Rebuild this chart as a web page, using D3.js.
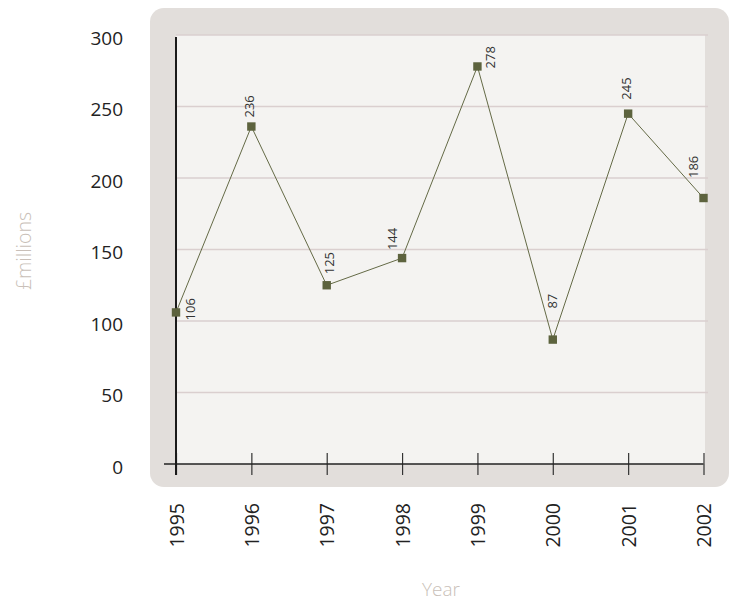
<!DOCTYPE html>
<html>
<head>
<meta charset="utf-8">
<script src="https://cdn.jsdelivr.net/npm/d3@7/dist/d3.min.js"></script>
<style>
  html, body { margin: 0; padding: 0; background: #ffffff; }
  svg { display: block; font-family: "Open Sans", "Noto Sans", sans-serif; }
</style>
</head>
<body>
<svg id="chart" width="729" height="601"></svg>
<script>
// Annual spend, £ millions
const years = ["1995", "1996", "1997", "1998", "1999", "2000", "2001", "2002"];
const spend = [106, 236, 125, 144, 278, 87, 245, 186];
const yTicks = [0, 50, 100, 150, 200, 250, 300];

const svg = d3.select("#chart");

const x = d3.scalePoint().domain(years).range([176, 703.5]);
const y = d3.scaleLinear().domain([0, 300]).range([464, 35]);

// Outer frame and plotting area
svg.append("rect")
  .attr("x", 150).attr("y", 8).attr("width", 579).attr("height", 479)
  .attr("rx", 14).attr("ry", 14)
  .attr("fill", "#e2dedb");
svg.append("rect")
  .attr("x", 176).attr("y", y(300)).attr("width", 529).attr("height", y(0) - y(300))
  .attr("fill", "#f4f3f1");

// Horizontal gridlines
svg.append("g").selectAll("line")
  .data(yTicks.filter(d => d > 0))
  .join("line")
  .attr("x1", 176).attr("x2", 708)
  .attr("y1", d => y(d)).attr("y2", d => y(d))
  .attr("stroke", "#dacfcf").attr("stroke-width", 1.5);

// Y axis labels
const yAxis = svg.append("g")
  .attr("transform", "translate(176,0)")
  .call(d3.axisLeft(y).tickValues(yTicks).tickSize(0).tickPadding(53));
yAxis.select(".domain").remove();
yAxis.selectAll("text")
  .attr("dy", "0.32em")
  .attr("transform", "translate(0,3)")
  .attr("font-size", 19)
  .attr("font-family", "Open Sans, Noto Sans, sans-serif")
  .attr("fill", "#222");

// X axis with ticks crossing the baseline
const xAxis = svg.append("g")
  .attr("transform", `translate(0,${y(0)})`)
  .call(d3.axisBottom(x).tickSize(11));
xAxis.select(".domain").remove();
xAxis.selectAll(".tick line")
  .attr("y1", -11).attr("y2", 11)
  .attr("stroke", "#333").attr("stroke-width", 1.2);
xAxis.append("line")
  .attr("x1", 164).attr("x2", x("2002"))
  .attr("y1", 0).attr("y2", 0)
  .attr("stroke", "#222").attr("stroke-width", 1.6);
xAxis.selectAll(".tick text")
  .attr("transform", "rotate(-90)")
  .attr("x", -39).attr("y", 0)
  .attr("dy", "0.36em")
  .attr("text-anchor", "end")
  .attr("font-size", 19.5)
  .attr("font-family", "Open Sans, Noto Sans, sans-serif")
  .attr("fill", "#222");

// Vertical axis line
svg.append("line")
  .attr("x1", 176).attr("x2", 176)
  .attr("y1", y(300) + 2).attr("y2", y(0) + 11)
  .attr("stroke", "#1a1a1a").attr("stroke-width", 2);

// Axis titles
svg.append("text")
  .attr("x", 441).attr("y", 596)
  .attr("text-anchor", "middle")
  .attr("font-size", 19)
  .attr("font-weight", 300)
  .attr("fill", "#c9bfb8")
  .text("Year");
svg.append("text")
  .attr("transform", "translate(24,251) rotate(-90)")
  .attr("text-anchor", "middle")
  .attr("dy", "0.35em")
  .attr("font-size", 19.5)
  .attr("font-weight", 300)
  .attr("fill", "#c9bfb8")
  .text("£millions");

// Series line and markers
const pts = years.map((yr, i) => ({ year: yr, value: spend[i] }));
svg.append("path")
  .datum(pts)
  .attr("fill", "none")
  .attr("stroke", "#646a46")
  .attr("stroke-width", 1)
  .attr("d", d3.line().x(d => x(d.year)).y(d => y(d.value)));

svg.append("g").selectAll("rect")
  .data(pts)
  .join("rect")
  .attr("x", d => x(d.year) - 4.2).attr("y", d => y(d.value) - 4.2)
  .attr("width", 8.4).attr("height", 8.4)
  .attr("fill", "#5d633e");

// Value labels, rotated; nudged clear of the line where it crowds
const labelNudge = [[14, 8], [-2, -9], [3, -11], [-10, -8], [13, 2], [0, -31], [-2, -14], [-10, -20]];
svg.append("g").selectAll("text")
  .data(pts)
  .join("text")
  .attr("transform", (d, i) =>
    `translate(${x(d.year) + labelNudge[i][0]},${y(d.value) + labelNudge[i][1]}) rotate(-90)`)
  .attr("dy", "0.35em")
  .attr("text-anchor", "start")
  .attr("font-size", 13)
  .attr("fill", "#333")
  .text(d => d.value);
</script>
</body>
</html>
